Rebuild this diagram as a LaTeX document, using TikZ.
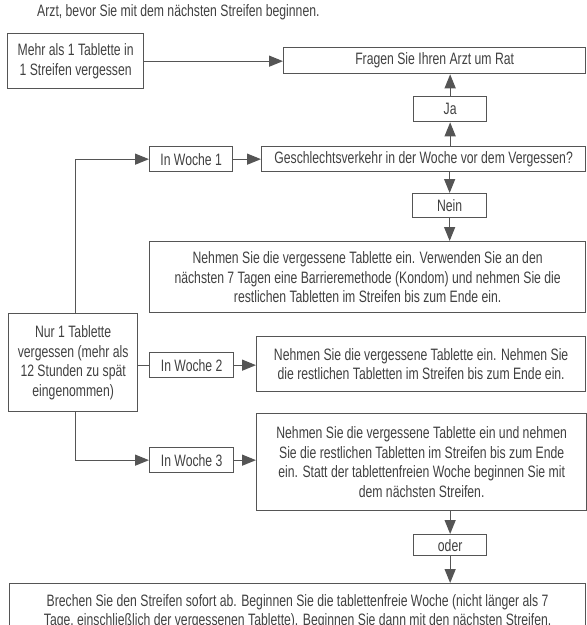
\documentclass[tikz,border=0pt]{standalone}
\usepackage{fontspec}
\setmainfont{Liberation Sans}[FakeStretch=0.74]
\usetikzlibrary{arrows.meta,positioning}
\definecolor{linegray}{HTML}{555555}
\definecolor{textgray}{HTML}{404040}

\begin{document}
\begin{tikzpicture}[x=1pt, y=-1pt,
    box/.style={draw=linegray, line width=1.3pt, inner sep=0pt, anchor=north west, align=center, text=textgray, font=\fontsize{16.5}{19.5}\selectfont},
    arrow/.style={-{Triangle[length=14pt, width=11pt]}, draw=linegray, line width=1.3pt}
  ]
    \useasboundingbox (0,0) rectangle (587,625);
    \clip (0,0) rectangle (587,625);
    \node[anchor=west, inner sep=0pt, text=textgray, font=\fontsize{16.5}{19.5}\selectfont] (intro) at (37,12) {Arzt, bevor Sie mit dem nächsten Streifen beginnen.};
    \node[box, minimum width=136pt, minimum height=55pt] (mehr) at (7,33) {Mehr als 1 Tablette in\\1 Streifen vergessen};
    \node[box, minimum width=302pt, minimum height=26pt] (fragen) at (283,47) {Fragen Sie Ihren Arzt um Rat};
    \node[box, minimum width=73pt, minimum height=25pt] (ja) at (413,96) {Ja};
    \node[box, minimum width=83pt, minimum height=25pt] (woche1) at (149,146) {In Woche 1};
    \node[box, minimum width=324pt, minimum height=25pt] (frage) at (261,146) {Geschlechtsverkehr in der Woche vor dem Vergessen?};
    \node[box, minimum width=74pt, minimum height=24pt] (nein) at (412,193) {Nein};
    \node[box, minimum width=436pt, minimum height=71pt] (kondom) at (149,241) {Nehmen Sie die vergessene Tablette ein. Verwenden Sie an den\\nächsten 7 Tagen eine Barrieremethode (Kondom) und nehmen Sie die\\restlichen Tabletten im Streifen bis zum Ende ein.};
    \node[box, minimum width=129pt, minimum height=98pt] (nur) at (8,313) {Nur 1 Tablette\\vergessen (mehr als\\12 Stunden zu spät\\eingenommen)};
    \node[box, minimum width=84pt, minimum height=25pt] (woche2) at (149,352) {In Woche 2};
    \node[box, minimum width=329pt, minimum height=55pt] (rest) at (256,336) {Nehmen Sie die vergessene Tablette ein. Nehmen Sie\\die restlichen Tabletten im Streifen bis zum Ende ein.};
    \node[box, minimum width=84pt, minimum height=25pt] (woche3) at (149,447) {In Woche 3};
    \node[box, minimum width=330pt, minimum height=97pt] (statt) at (256,413) {Nehmen Sie die vergessene Tablette ein und nehmen\\Sie die restlichen Tabletten im Streifen bis zum Ende\\ein. Statt der tablettenfreien Woche beginnen Sie mit\\dem nächsten Streifen.};
    \node[box, minimum width=73pt, minimum height=21pt] (oder) at (413,534) {oder};
    \node[box, minimum width=576pt, minimum height=56pt] (abbruch) at (9,583) {Brechen Sie den Streifen sofort ab. Beginnen Sie die tablettenfreie Woche (nicht länger als 7\\Tage, einschließlich der vergessenen Tablette). Beginnen Sie dann mit den nächsten Streifen.};
    % connectors
    \draw[arrow] (mehr.east) -- (mehr.east -| fragen.west);
    \draw[arrow] (frage.north -| ja) -- (ja.south);
    \draw[arrow] (ja.north) -- (ja.north |- fragen.south);
    \draw[arrow] (frage.south -| nein) -- (nein.north);
    \draw[arrow] (nein.south) -- (nein.south |- kondom.north);
    \draw[arrow] ([xshift=2.5pt]nur.north) |- (woche1.west);
    \draw[arrow] (woche1) -- (frage);
    \draw[draw=linegray, line width=1.3pt] (woche2.west -| nur.east) -- (woche2.west);
    \draw[arrow] (woche2) -- (woche2 -| rest.west);
    \draw[arrow] ([xshift=2.5pt]nur.south) |- (woche3.west);
    \draw[arrow] (woche3) -- (woche3 -| statt.west);
    \draw[arrow] (statt.south -| oder) -- (oder.north);
    \draw[arrow] (oder.south) -- (oder.south |- abbruch.north);
  \end{tikzpicture}
\end{document}
